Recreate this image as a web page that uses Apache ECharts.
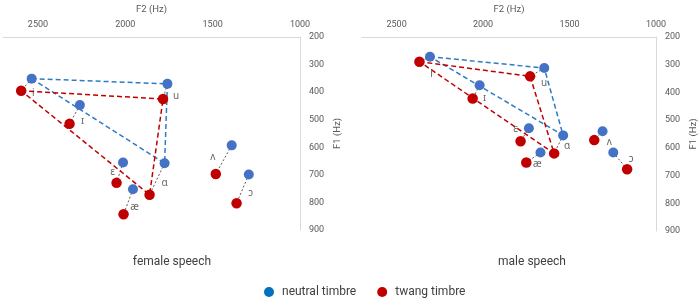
<!DOCTYPE html>
<html>
<head>
<meta charset="utf-8">
<script src="https://cdn.jsdelivr.net/npm/echarts@6/dist/echarts.min.js"></script>
<style>html,body{margin:0;padding:0;background:#fff;}#c{width:700px;height:299px;}</style>
</head>
<body>
<div id="c"></div>
<script>
// ---- data ----
const vowels = ['i', 'ɪ', 'ɛ', 'æ', 'ɑ', 'ʌ', 'ɔ', 'u'];
const femaleNeutralF2 = [2536, 2260, 2013, 1956, 1775, 1391, 1293, 1759];
const femaleNeutralF1 = [351, 447, 655, 752, 658, 593, 699, 370];
const femaleTwangF2 = [2596, 2319, 2050, 2010, 1861, 1482, 1363, 1784];
const femaleTwangF1 = [395, 515, 729, 843, 772, 697, 803, 425];
const maleNeutralF2 = [2307, 2020, 1735, 1668, 1537, 1309, 1247, 1646];
const maleNeutralF1 = [271, 374, 529, 617, 555, 540, 617, 312];
const maleTwangF2 = [2368, 2060, 1783, 1750, 1589, 1357, 1167, 1728];
const maleTwangF1 = [289, 422, 576, 653, 620, 572, 677, 342];
const cornerVowels = ['i', 'u', 'ɑ', 'i'];
const xTickLabels = [2500, 2000, 1500, 1000];
const yTickLabels = [200, 300, 400, 500, 600, 700, 800, 900];
const panelTitles = ['female speech', 'male speech'];
const seriesNames = ['neutral timbre', 'twang timbre'];

// ---- styling (label placement relative to twang point, px) ----
const labelOffsets = [
  { 'i': [12, 2], 'ɪ': [13, -3], 'ɛ': [-4, -11], 'æ': [11, -7], 'ɑ': [15, -12], 'ʌ': [-3, -17], 'ɔ': [14, -10], 'u': [13, -3] },
  { 'i': [12, 12], 'ɪ': [12, 0], 'ɛ': [-5, -12], 'æ': [11, 2], 'ɑ': [13, -7], 'ʌ': [15, 2], 'ɔ': [4, -10], 'u': [14, 7] }
];
const BLUE = '#4472C4', RED = '#C00000', BLUE_LINE = '#2F7BC4', GRAY = '#595959';
const FONT = 'Roboto';

const chart = echarts.init(document.getElementById('c'), null, { renderer: 'canvas' });

function pts(f2, f1) { return f2.map((v, i) => [v, f1[i]]); }

const grids = [
  { left: 0, top: 32, width: 300, height: 198 },
  { left: 362, top: 33, width: 298, height: 198 }
];

const xAxes = grids.map((g, gi) => ({
  type: 'value', gridIndex: gi, position: 'top', inverse: true,
  min: 1000, max: 2700, interval: 500,
  name: 'F2 (Hz)', nameLocation: 'middle', nameGap: 22,
  nameTextStyle: { color: GRAY, fontSize: 9.5, fontFamily: FONT },
  axisLine: { show: true, lineStyle: { color: '#D9D9D9', width: 1 } },
  axisTick: { show: false }, splitLine: { show: false },
  axisLabel: { color: GRAY, fontSize: 9, fontFamily: FONT, margin: 8,
    formatter: v => xTickLabels.includes(v) ? String(v) : '' }
}));
const yAxes = grids.map((g, gi) => ({
  type: 'value', gridIndex: gi, position: 'right', inverse: true,
  min: 200, max: 900, interval: 100,
  name: 'F1 (Hz)', nameLocation: 'middle', nameGap: 33, nameRotate: 90,
  nameTextStyle: { color: GRAY, fontSize: 9.5, fontFamily: FONT },
  axisLine: { show: true, lineStyle: { color: '#D9D9D9', width: 1 } },
  axisTick: { show: false }, splitLine: { show: false },
  axisLabel: { color: GRAY, fontSize: 9, fontFamily: FONT, margin: 9,
    formatter: v => yTickLabels.includes(v) ? String(v) : '' }
}));

const series = [];
const panels = [
  [femaleNeutralF2, femaleNeutralF1, femaleTwangF2, femaleTwangF1],
  [maleNeutralF2, maleNeutralF1, maleTwangF2, maleTwangF1]
];
panels.forEach((p, gi) => {
  const neutral = pts(p[0], p[1]);
  const twang = pts(p[2], p[3]);
  // pair lines neutral -> twang
  vowels.forEach((v, i) => {
    series.push({
      type: 'line', xAxisIndex: gi, yAxisIndex: gi, showSymbol: false, silent: true, z: 1,
      data: [neutral[i], twang[i]],
      lineStyle: { color: GRAY, width: 1, type: [2, 2] }
    });
  });
  const idx = cornerVowels.map(v => vowels.indexOf(v));
  series.push({
    type: 'line', xAxisIndex: gi, yAxisIndex: gi, showSymbol: false, silent: true, z: 2,
    data: idx.map(i => neutral[i]),
    lineStyle: { color: BLUE_LINE, width: 1.5, type: [5, 3] }
  });
  series.push({
    type: 'line', xAxisIndex: gi, yAxisIndex: gi, showSymbol: false, silent: true, z: 2,
    data: idx.map(i => twang[i]),
    lineStyle: { color: RED, width: 1.5, type: [5, 3] }
  });
  series.push({
    name: seriesNames[0], type: 'scatter', xAxisIndex: gi, yAxisIndex: gi, z: 3,
    symbol: 'circle', symbolSize: 10, data: neutral, itemStyle: { color: BLUE, opacity: 1 }
  });
  series.push({
    name: seriesNames[1], type: 'scatter', xAxisIndex: gi, yAxisIndex: gi, z: 3,
    symbol: 'circle', symbolSize: 10.5, data: twang, itemStyle: { color: RED, opacity: 1 }
  });
  // vowel labels
  series.push({
    type: 'scatter', xAxisIndex: gi, yAxisIndex: gi, z: 4, silent: true,
    symbol: 'circle', symbolSize: 1, itemStyle: { color: 'rgba(0,0,0,0)' },
    data: vowels.map((v, i) => ({
      value: twang[i],
      label: { show: true, position: 'inside', formatter: v, offset: labelOffsets[gi][v],
        color: '#404040', fontSize: 10, fontFamily: "'Noto Sans', 'DejaVu Sans'" }
    }))
  });
});

chart.setOption({
  animation: false,
  grid: grids,
  xAxis: xAxes,
  yAxis: yAxes,
  legend: {
    left: 259, top: 281, padding: 5, itemWidth: 10, itemHeight: 10, itemGap: 21,
    textStyle: { color: '#404040', fontSize: 12, fontFamily: FONT, padding: [0, 0, 0, 3] },
    data: [
      { name: seriesNames[0], icon: 'circle', itemStyle: { color: '#0070C0' } },
      { name: seriesNames[1], icon: 'circle', itemStyle: { color: RED } }
    ],
    selectedMode: false
  },
  graphic: [
    { type: 'text', style: { text: panelTitles[0], x: 172, y: 262, align: 'center', verticalAlign: 'middle', fontSize: 12, fontFamily: FONT, fill: '#404040' } },
    { type: 'text', style: { text: panelTitles[1], x: 532, y: 262, align: 'center', verticalAlign: 'middle', fontSize: 12, fontFamily: FONT, fill: '#404040' } }
  ],
  series: series
});
</script>
</body>
</html>
